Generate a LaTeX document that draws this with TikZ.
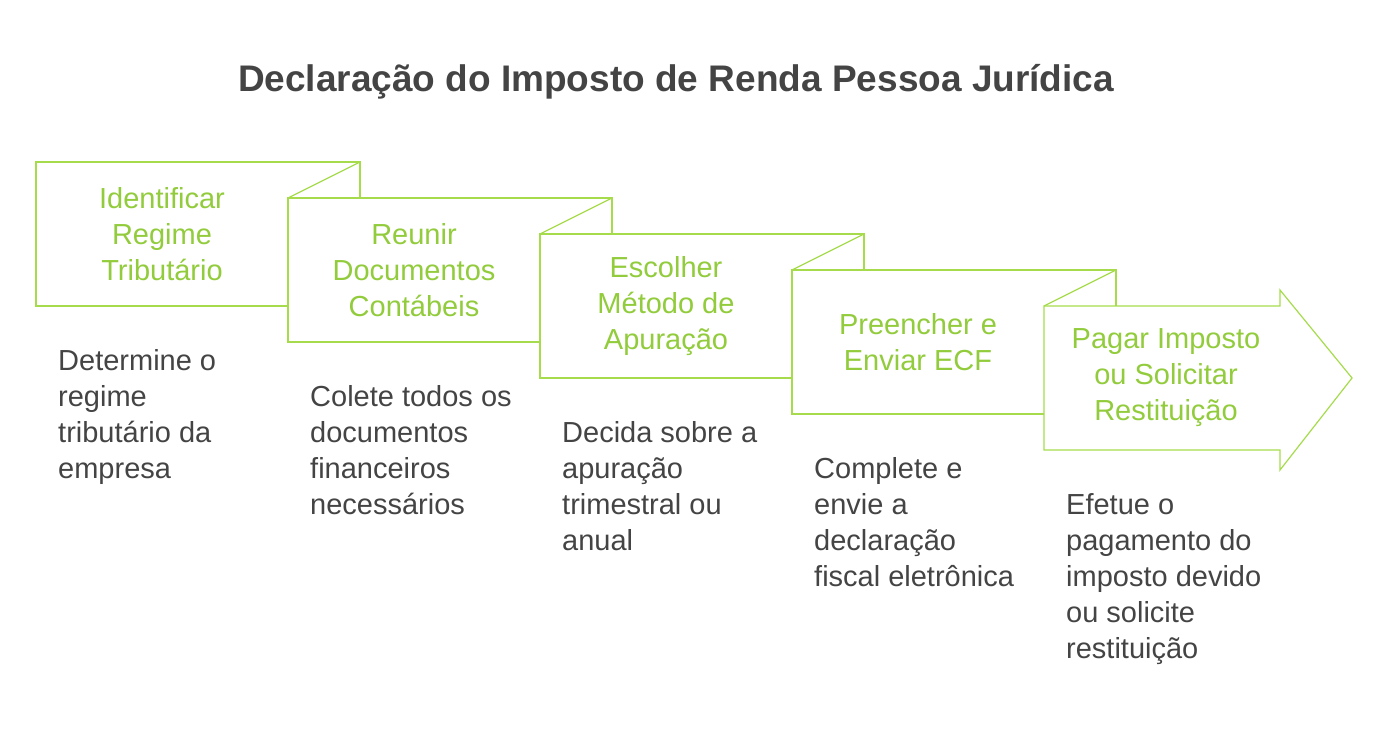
\documentclass[tikz,border=0pt]{standalone}
\usepackage{fontspec}
\setmainfont{Liberation Sans}
\definecolor{gr}{HTML}{A6DC4C}
\definecolor{gt}{HTML}{92CC3C}
\definecolor{tx}{HTML}{444444}
\begin{document}
\begin{tikzpicture}[x=1pt,y=-1pt,
  bx/.style={draw=gr,line width=1.2pt,fill=white,line join=miter},
  lab/.style={text=gt,align=center,font=\fontsize{29}{36}\selectfont},
  desc/.style={text=tx,align=left,anchor=north west,font=\fontsize{29}{36}\selectfont,inner sep=0}]
\useasboundingbox (0,0) rectangle (1388,740);
\node[text=tx,font=\bfseries\fontsize{37}{42}\selectfont] (title) at (676,82) {Declaração do Imposto de Renda Pessoa Jurídica};
\foreach \i/\t in {0/{Identificar\\Regime\\Tributário},1/{Reunir\\Documentos\\Contábeis},2/{Escolher\\Método de\\Apuração},3/{Preencher e\\Enviar ECF}}{
  \pgfmathsetmacro\x{36+252*\i}
  \pgfmathsetmacro\y{162+36*\i}
  \fill[white] (\x,\y) rectangle ++(252,144);
  \fill[white] (\x+252,\y) -- (\x+324,\y) -- (\x+324,\y+36) -- (\x+252,\y+36) -- cycle;
  \draw[bx] (\x+252,\y+144) -- (\x,\y+144) -- (\x,\y) -- (\x+324,\y) -- (\x+324,\y+36);
  \draw[bx] (\x+252,\y+36) -- (\x+324,\y);
  \node[lab] (b\i) at (\x+126,\y+72) {\t};
}
\draw[bx] (1044,306) -- (1280,306) -- (1280,290) -- (1352,378) -- (1280,470) -- (1280,450) -- (1044,450) -- cycle;
\node[lab] (b4) at (1166,378) {Pagar Imposto\\ou Solicitar\\Restituição};
\node[desc] (d0) at (58,349) {Determine o\\regime\\tributário da\\empresa};
\node[desc] (d1) at (310,385) {Colete todos os\\documentos\\financeiros\\necessários};
\node[desc] (d2) at (562,421) {Decida sobre a\\apuração\\trimestral ou\\anual};
\node[desc] (d3) at (814,457) {Complete e\\envie a\\declaração\\fiscal eletrônica};
\node[desc] (d4) at (1066,493) {Efetue o\\pagamento do\\imposto devido\\ou solicite\\restituição};
\end{tikzpicture}
\end{document}
